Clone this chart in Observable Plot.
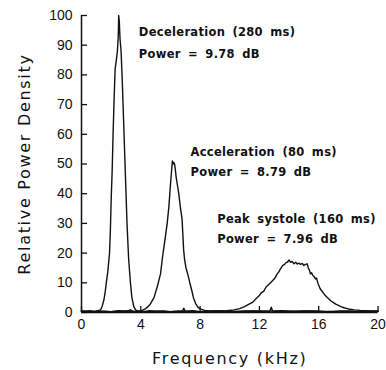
<!DOCTYPE html>
<html>
<head>
<meta charset="utf-8">
<script src="https://cdn.jsdelivr.net/npm/d3@7"></script>
<script src="https://cdn.jsdelivr.net/npm/@observablehq/plot@0.6"></script>
<style>
  html, body { margin: 0; padding: 0; background: #fff; }
</style>
</head>
<body>
<div id="chart"></div>
<script>
// ---- data ----
const decelFreq  = [0,0.3,0.6,0.9,1.1,1.29,1.4,1.51,1.6,1.67,1.78,1.89,1.95,2.0,2.07,2.13,2.2,2.27,2.35,2.42,2.48,2.51,2.55,2.6,2.67,2.75,2.87,2.97,3.07,3.18,3.3,3.4,3.53,3.65,3.8,4.2,4.6,5,5.5,6,6.6,7,7.5,8,9,10,11,12,12.7,12.8,12.9,14,15,16,17,18,19,20];
const decelPower = [0.6,0.4,0.5,0.3,0.6,0.9,2.2,4.2,7,9.8,14,20,28,37.7,48,60,72,82,85,88,93,100,98,92,88,78,60,45,30,18,10,5,2,0.9,0.5,0.3,0.6,0.4,0.5,0.3,0.5,0.4,0.6,0.3,0.5,0.3,0.5,0.4,0.4,1.8,0.4,0.3,0.5,0.4,0.3,0.5,0.3,0.4];

const accelFreq  = [0,0.5,1,1.5,2,2.5,3,3.3,3.5,4,4.33,4.6,4.89,5.1,5.22,5.33,5.45,5.56,5.67,5.78,5.9,6.0,6.08,6.13,6.18,6.22,6.28,6.33,6.4,6.5,6.56,6.68,6.78,6.84,6.89,6.95,7.05,7.22,7.33,7.44,7.55,7.7,7.85,8.0,8.3,8.7,9.5,10.5,11.5,12.5,13.5,14.5,15.5,16.5,17.5,18.5,19.5,20];
const accelPower = [0.3,0.5,0.2,0.4,0.3,0.6,0.4,0.9,0.3,0.5,1.3,2.5,5,8.5,10.8,13,18,22,26,30,36,43,48,51,50,50.5,50,48,45,42,40,35,31.6,26,21,18,15,11.9,9.5,7.4,5,3,1.8,1.2,0.7,0.4,0.5,0.3,0.5,0.4,0.6,0.4,0.5,0.3,0.5,0.3,0.4,0.3];

const systoleFreq  = [0,1,2,3,4,5,6,6.8,6.9,7.0,8,9,9.8,10.3,10.67,11.0,11.3,11.56,11.8,12.0,12.1,12.3,12.45,12.56,12.7,12.9,13.05,13.2,13.3,13.4,13.56,13.7,13.8,13.9,14.0,14.1,14.2,14.33,14.45,14.55,14.65,14.78,14.9,15.0,15.1,15.22,15.3,15.38,15.44,15.52,15.6,15.7,15.78,15.85,15.95,16.1,16.25,16.4,16.55,16.67,16.85,17.0,17.15,17.33,17.5,17.7,18,18.4,18.8,19.5,20];
const systolePower = [0.2,0.4,0.3,0.5,0.3,0.4,0.3,0.4,1.4,0.4,0.3,0.5,0.6,0.9,1.3,2,2.8,3.5,4.8,5.7,6.5,7.2,8.6,9.1,9.8,10.8,11.6,13,13.6,14.5,15.8,16.2,16.8,17,17.7,16.9,17.2,16.4,16.9,16.3,16.6,16.2,16.5,15.8,16.2,16.4,15,14.2,13,13.4,12.5,12.0,11.3,11.6,9.8,8,7,6,5.2,4.6,3.8,3.3,2.8,2.4,2.0,1.6,1.2,0.9,0.7,0.5,0.5];

const annotationLabels = ["Deceleration (280 ms)", "Power = 9.78 dB", "Acceleration (80 ms)", "Power = 8.79 dB", "Peak systole (160 ms)", "Power = 7.96 dB"];
const annotationFreq   = [3.87, 3.87, 7.35, 7.35, 9.15, 9.15];
const annotationPower  = [94.3, 87.0, 54.0, 47.2, 31.3, 24.6];

const xTicks = [0, 4, 8, 12, 16, 20];
const yTicks = [0, 10, 20, 30, 40, 50, 60, 70, 80, 90, 100];
const xTitle = "Frequency (kHz)";
const yTitle = "Relative Power Density";

// ---- build tables ----
const toRows = (fs, ps) => fs.map((f, i) => ({f, p: ps[i]}));
const decel = toRows(decelFreq, decelPower);
const accel = toRows(accelFreq, accelPower);
const systole = toRows(systoleFreq, systolePower);
const annotations = annotationLabels.map((t, i) => ({t, f: annotationFreq[i], p: annotationPower[i]}));

const font = "DejaVu Sans";
const tickFont = "Liberation Sans";
const ink = "#111";

const chart = Plot.plot({
  width: 386,
  height: 370,
  marginLeft: 81,
  marginRight: 8.5,
  marginTop: 15,
  marginBottom: 58,
  style: {fontFamily: font, fontSize: "13px", color: ink, background: "#fff"},
  x: {domain: [0, 20]},
  y: {domain: [0, 100]},
  marks: [
    // tick labels
    Plot.axisX(xTicks, {tickSize: 0, tickPadding: 7, fontSize: 14, fontFamily: tickFont, label: null}),
    Plot.axisY(yTicks, {tickSize: 0, tickPadding: 9, fontSize: 14, fontFamily: tickFont, label: null}),
    // inward tick marks
    Plot.axisX(xTicks, {tickSize: 6, dy: -6, tickFormat: () => "", label: null, strokeWidth: 1.3}),
    Plot.axisY(yTicks, {tickSize: 6, dx: 6, tickFormat: () => "", label: null, strokeWidth: 1.3}),
    // axis lines
    Plot.ruleY([0], {stroke: ink, strokeWidth: 1.6}),
    Plot.ruleX([0], {stroke: ink, strokeWidth: 1.5}),
    // spectra
    Plot.line(decel, {x: "f", y: "p", stroke: ink, strokeWidth: 1.4}),
    Plot.line(accel, {x: "f", y: "p", stroke: ink, strokeWidth: 1.4}),
    Plot.line(systole, {x: "f", y: "p", stroke: ink, strokeWidth: 1.4}),
    // annotations
    Plot.text(annotations, {x: "f", y: "p", text: "t", textAnchor: "start", fontSize: 11.5, fontWeight: "bold", fill: ink}),
    // axis titles
    Plot.text([xTitle], {frameAnchor: "bottom", dy: 51, fontSize: 16, fill: ink}),
    Plot.text([yTitle], {frameAnchor: "left", textAnchor: "middle", dx: -57, rotate: -90, fontSize: 16, fill: ink})
  ]
});

d3.select(chart).selectAll("text").each(function () {
  const t = this.textContent;
  if (t === xTitle || t === yTitle) this.setAttribute("letter-spacing", "1.7");
  else if (annotationLabels.includes(t)) {
    this.setAttribute("letter-spacing", "0.3");
    this.setAttribute("word-spacing", "3");
  }
});

document.getElementById("chart").appendChild(chart);
</script>
</body>
</html>
